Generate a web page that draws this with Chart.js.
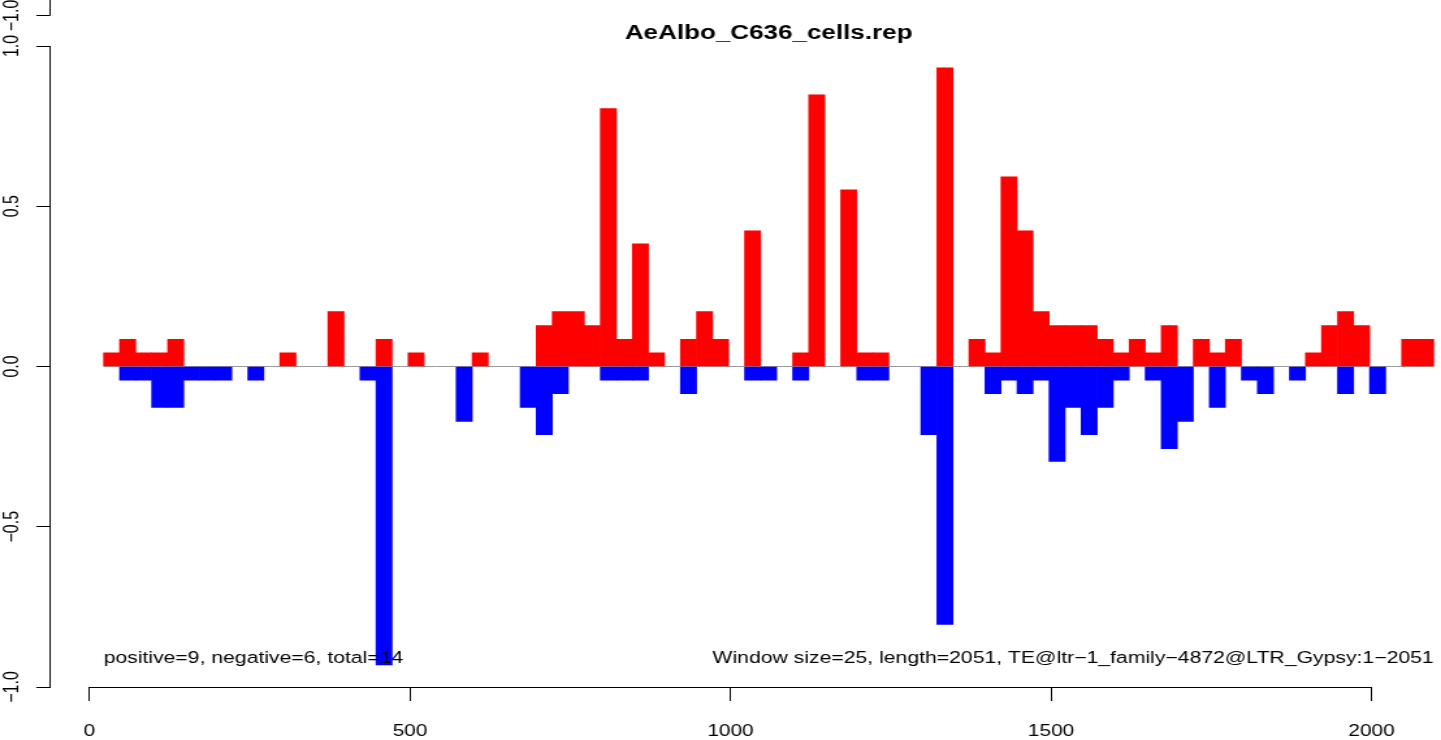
<!DOCTYPE html>
<html>
<head>
<meta charset="utf-8">
<title>AeAlbo_C636_cells.rep</title>
<script src="https://cdn.jsdelivr.net/npm/chart.js@4.4.1/dist/chart.umd.min.js"></script>
<style>
  html, body { margin: 0; padding: 0; background: #fff; overflow: hidden; }
  /* the source png is stretched sideways, so the chart is drawn narrower and scaled */
  #wrap { width: 1108px; height: 740px; transform: scaleX(1.300541); transform-origin: 0 0; }
</style>
</head>
<body>
<div id="wrap"><canvas id="chart" width="1108" height="740"></canvas></div>
<script>
const windowSize = 25;
const firstCenter = 34.5;

// red: positive strand, blue: negative strand, one value per window
const positive = [
  0.043, 0.085, 0.043, 0.043, 0.085, 0, 0, 0, 0, 0,
  0, 0.043, 0, 0, 0.171, 0, 0, 0.085, 0, 0.043,
  0, 0, 0, 0.043, 0, 0, 0, 0.128, 0.171, 0.171,
  0.128, 0.805, 0.085, 0.383, 0.043, 0, 0.085, 0.171, 0.085, 0,
  0.423, 0, 0, 0.043, 0.848, 0, 0.551, 0.043, 0.043, 0,
  0, 0, 0.932, 0, 0.085, 0.043, 0.592, 0.423, 0.171, 0.128,
  0.128, 0.128, 0.085, 0.043, 0.085, 0.043, 0.128, 0, 0.085, 0.043,
  0.085, 0, 0, 0, 0, 0.043, 0.128, 0.171, 0.128, 0,
  0, 0.085, 0.085
];
const negative = [
  0, -0.043, -0.043, -0.128, -0.128, -0.043, -0.043, -0.043, 0, -0.043,
  0, 0, 0, 0, 0, 0, -0.043, -0.931, 0, 0,
  0, 0, -0.171, 0, 0, 0, -0.128, -0.213, -0.085, 0,
  0, -0.043, -0.043, -0.043, 0, 0, -0.085, 0, 0, 0,
  -0.043, -0.043, 0, -0.043, 0, 0, 0, -0.043, -0.043, 0,
  0, -0.213, -0.805, 0, 0, -0.085, -0.043, -0.085, -0.043, -0.296,
  -0.128, -0.213, -0.128, -0.043, 0, -0.043, -0.256, -0.171, 0, -0.128,
  0, -0.043, -0.085, 0, -0.043, 0, 0, -0.085, 0, -0.085,
  0, 0, 0
];
const xTicks = [0, 500, 1000, 1500, 2000];
const yTicks = [-1, -0.5, 0, 0.5, 1];

const chartTitle = "AeAlbo_C636_cells.rep";
const countText = "positive=9, negative=6, total=14";
const infoText = "Window size=25, length=2051, TE@ltr\u22121_family\u22124872@LTR_Gypsy:1\u22122051";

const centers = positive.map((v, i) => firstCenter + i * windowSize);
const startPos = centers[0] - windowSize / 2;
const endPos = centers[centers.length - 1] + windowSize / 2;

const fontFamily = '"Liberation Sans", Arial, Helvetica, sans-serif';

function fmtY(v) {
  let s = Math.abs(v).toFixed(1);
  return v < 0 ? "\u2212" + s : s;
}

// empty windows get no bar at all
function toPoints(values) {
  return centers.map((c, i) => ({x: c, y: values[i] === 0 ? null : values[i]}));
}

const rAnnotations = {
  id: 'rAnnotations',
  afterDatasetsDraw(chart) {
    const {ctx, scales: {x, y}} = chart;
    ctx.save();
    ctx.fillStyle = '#000';
    ctx.font = '16.3px ' + fontFamily;
    ctx.textBaseline = 'middle';
    let ty = y.getPixelForValue(-0.91);
    ctx.textAlign = 'left';
    ctx.fillText(countText, x.getPixelForValue(startPos), ty);
    ctx.textAlign = 'right';
    ctx.fillText(infoText, x.getPixelForValue(endPos), ty);
    ctx.restore();
  },
  afterDraw(chart) {
    const {ctx, chartArea, scales: {x}} = chart;
    ctx.save();
    ctx.strokeStyle = '#000';
    ctx.lineWidth = 1;

    // x axis line only between first and last tick, like R
    let by = Math.round(chartArea.bottom) + 0.5;
    ctx.beginPath();
    ctx.moveTo(x.getPixelForValue(xTicks[0]), by);
    ctx.lineTo(x.getPixelForValue(xTicks[xTicks.length - 1]), by);
    ctx.stroke();

    // bit of the panel above that shows at the top edge
    let lx = Math.round(chartArea.left) + 0.5;
    let uy = Math.round(chartArea.top - 31) + 0.5;
    ctx.beginPath();
    ctx.moveTo(lx, 0);
    ctx.lineTo(lx, uy);
    ctx.lineTo(lx - 10.5, uy);
    ctx.stroke();
    ctx.translate(9.2, uy);
    ctx.rotate(-Math.PI / 2);
    ctx.fillStyle = '#000';
    ctx.font = '16px ' + fontFamily;
    ctx.textAlign = 'center';
    ctx.textBaseline = 'middle';
    ctx.fillText(fmtY(-1), 0, 0);
    ctx.restore();

    // title centred over the windows
    ctx.save();
    ctx.fillStyle = '#000';
    ctx.font = 'bold 20px ' + fontFamily;
    ctx.textAlign = 'center';
    ctx.textBaseline = 'middle';
    ctx.fillText(chartTitle, (x.getPixelForValue(startPos) + x.getPixelForValue(endPos)) / 2, chartArea.top - 13);
    ctx.restore();
  }
};

const ctx = document.getElementById('chart').getContext('2d');

const myChart = new Chart(ctx, {
  type: 'bar',
  data: {
    datasets: [
      {
        label: 'positive',
        data: toPoints(positive),
        backgroundColor: '#ff0000',
        borderWidth: 0,
        order: 2
      },
      {
        label: 'negative',
        data: toPoints(negative),
        backgroundColor: '#0000ff',
        borderWidth: 0,
        order: 1
      },
      {
        type: 'line',
        label: 'zero',
        data: [{x: startPos, y: 0}, {x: endPos, y: 0}],
        borderColor: '#9a9a9a',
        borderWidth: 1,
        pointRadius: 0,
        order: 10
      }
    ]
  },
  options: {
    responsive: false,
    animation: false,
    grouped: false,
    barPercentage: 1,
    categoryPercentage: 1,
    layout: { padding: { top: 46, right: 0, bottom: 0, left: 0 } },
    plugins: {
      legend: { display: false },
      title: { display: false },
      tooltip: { enabled: false }
    },
    scales: {
      x: {
        type: 'linear',
        offset: false,
        min: -61.6,
        max: 2108.4,
        afterBuildTicks: s => { s.ticks = xTicks.map(v => ({value: v})); },
        afterFit: s => { s.height = 53; },
        border: { display: false },
        grid: { display: true, offset: false, drawOnChartArea: false, drawTicks: true, tickLength: 14, tickColor: '#000', tickWidth: 1 },
        ticks: {
          padding: 21, maxRotation: 0, autoSkip: false, color: '#000',
          font: { family: fontFamily, size: 16 },
          callback: v => String(v)
        }
      },
      y: {
        min: -1,
        max: 1,
        afterBuildTicks: s => { s.ticks = yTicks.map(v => ({value: v})); },
        afterFit: s => { s.width = 38.45; },
        border: { display: true, color: '#000', width: 1 },
        grid: { display: true, drawOnChartArea: false, drawTicks: true, tickLength: 10.5, tickColor: '#000', tickWidth: 1 },
        ticks: {
          minRotation: 90, maxRotation: 90, crossAlign: 'center', padding: 3, color: '#000',
          font: { family: fontFamily, size: 16 },
          callback: v => fmtY(v)
        }
      }
    }
  },
  plugins: [rAnnotations]
});
</script>
</body>
</html>
